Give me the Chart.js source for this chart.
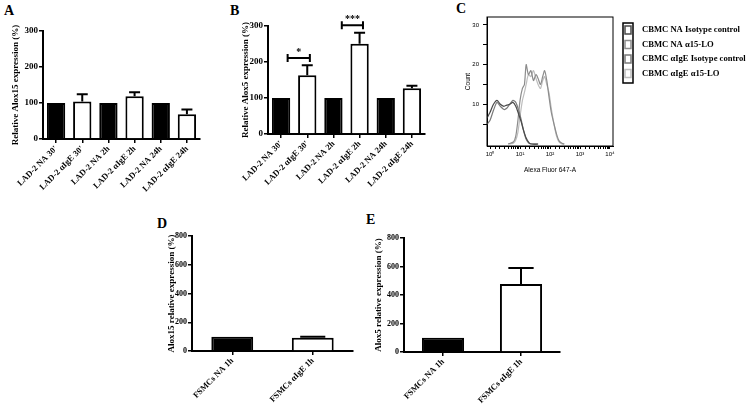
<!DOCTYPE html>
<html>
<head>
<meta charset="utf-8">
<script src="https://cdn.jsdelivr.net/npm/chart.js@4.4.1/dist/chart.umd.min.js"></script>
<style>
  body { margin: 0; background: #fff; }
  #wrap { position: relative; width: 750px; height: 407px; overflow: hidden; background: #fff; }
  canvas { position: absolute; }
  .lab { position: absolute; font: bold 14px "Liberation Serif", serif; color: #000; }
</style>
</head>
<body>
<div id="wrap">
  <div class="lab" style="left:4px;top:3px">A</div>
  <div class="lab" style="left:230px;top:3px">B</div>
  <div class="lab" style="left:456px;top:1px">C</div>
  <div class="lab" style="left:157px;top:216px">D</div>
  <div class="lab" style="left:366px;top:212px">E</div>
  <canvas id="chartA" width="215" height="200" style="left:0;top:0"></canvas>
  <canvas id="chartB" width="215" height="200" style="left:225px;top:0"></canvas>
  <canvas id="chartC" width="310" height="190" style="left:440px;top:0"></canvas>
  <canvas id="chartD" width="210" height="207" style="left:155px;top:200px"></canvas>
  <canvas id="chartE" width="200" height="207" style="left:372px;top:200px"></canvas>
</div>
<script>
// panels A, B: LAD-2 cells
const ladLabels = ["LAD-2 NA 30'", "LAD-2 αIgE 30'", "LAD-2 NA 2h", "LAD-2 αIgE 2h", "LAD-2 NA 24h", "LAD-2 αIgE 24h"];
const alox15Lad = [100, 104, 100, 119, 100, 69];
const alox15LadErr = [0, 20, 0, 11, 0, 13];
const alox5Lad = [100, 163, 100, 251, 100, 127];
const alox5LadErr = [0, 28, 0, 30, 0, 7];

// panels D, E: FSMCs
const fsmcLabels = ["FSMCs NA 1h", "FSMCs αIgE 1h"];
const alox15Fsmc = [100, 93];
const alox15FsmcErr = [0, 6];
const alox5Fsmc = [100, 477];
const alox5FsmcErr = [0, 113];

// panel C: flow histogram (Alexa Fluor 647-A vs count)
const isoX = [0.79, 1.0, 1.3, 1.7, 2.2, 2.9, 3.6, 4.5, 5.8, 7.2, 9, 11, 13, 16, 20, 25, 40];
const naIsotype = [6.5, 8, 10, 11, 10, 9.5, 9.8, 10, 10.5, 9.5, 7.5, 5.5, 3.5, 1.5, 0.3, 0, 0];
const igeIsotype = [5, 6, 8.5, 10.5, 9.5, 8.7, 9, 10, 11, 10.5, 8.5, 6, 3.5, 1.2, 0.2, 0, 0];
const loX = [4, 6, 7.2, 8.5, 10, 12, 14, 16, 19, 23, 28, 34, 40, 48, 57, 66, 78, 92, 110, 136, 165, 200, 250, 300];
const naLO = [0, 0.5, 2, 6, 11, 14, 15, 20, 17.5, 18.5, 16, 17.5, 16.5, 15, 17, 18.5, 16, 12, 8, 5, 2.5, 0.8, 0.2, 0];
const igeLO = [0, 0.2, 1, 3, 7, 11, 13, 15, 17.5, 17, 18.5, 16.5, 15, 14, 16, 17, 15, 13, 9, 5, 2, 0.5, 0, 0];

const serif = '"Liberation Serif", "Times New Roman", serif';
const sans = '"Liberation Sans", Arial, sans-serif';

const errorBars = {
    id: 'errorBars',
    afterDatasetsDraw(chart, args, opts)
    {
        const errs = opts.values;
        if(!errs) return;
        const ctx = chart.ctx;
        const y = chart.scales.y;
        const vals = chart.data.datasets[0].data;
        const meta = chart.getDatasetMeta(0);
        ctx.save();
        ctx.strokeStyle = '#000';
        ctx.lineWidth = 2;
        for(let i=0; i<meta.data.length; i++)
        {
            if(!errs[i]) continue;
            const bar = meta.data[i];
            const top = y.getPixelForValue(vals[i] + errs[i]);
            const base = y.getPixelForValue(vals[i]);
            const half = bar.width * 0.3;
            ctx.beginPath();
            ctx.moveTo(bar.x, base);
            ctx.lineTo(bar.x, top);
            ctx.moveTo(bar.x - half, top);
            ctx.lineTo(bar.x + half, top);
            ctx.stroke();
        }
        ctx.restore();
    }
};

const brackets = {
    id: 'brackets',
    afterDatasetsDraw(chart, args, opts)
    {
        const list = opts.items;
        if(!list) return;
        const ctx = chart.ctx;
        const x = chart.scales.x;
        const y = chart.scales.y;
        ctx.save();
        ctx.strokeStyle = '#000';
        ctx.fillStyle = '#000';
        ctx.lineWidth = 2;
        ctx.font = 'bold 10px ' + serif;
        ctx.textAlign = 'center';
        ctx.textBaseline = 'bottom';
        for(let i=0; i<list.length; i++)
        {
            const b = list[i];
            const x1 = x.getPixelForValue(b.from);
            const x2 = x.getPixelForValue(b.to);
            const yy = y.getPixelForValue(b.value);
            ctx.beginPath();
            ctx.moveTo(x1, yy); ctx.lineTo(x2, yy);
            ctx.moveTo(x1, yy - 4); ctx.lineTo(x1, yy + 4);
            ctx.moveTo(x2, yy - 4); ctx.lineTo(x2, yy + 4);
            ctx.stroke();
            ctx.fillText(b.text, (x1 + x2) / 2, yy - 1);
        }
        ctx.restore();
    }
};

function drawBars(id, labels, values, errs, opt)
{
    const ctx = document.getElementById(id).getContext('2d');
    return new Chart(ctx, {
        type: 'bar',
        data: {
            labels: labels,
            datasets: [{
                data: values,
                backgroundColor: c => c.dataIndex % 2 === 0 ? '#000' : '#fff',
                borderColor: '#000',
                borderWidth: 2,
                categoryPercentage: 1,
                barPercentage: opt.barPct
            }]
        },
        options: {
            responsive: false,
            animation: false,
            layout: { padding: { top: opt.top, right: opt.right, left: 0, bottom: 0 } },
            plugins: {
                legend: { display: false },
                tooltip: { enabled: false },
                errorBars: { values: errs },
                brackets: { items: opt.brackets }
            },
            scales: {
                x: {
                    afterFit: s => { s.height = opt.xh; },
                    border: { color: '#000', width: 2 },
                    grid: { offset: false, drawOnChartArea: false, color: '#000', lineWidth: 1.5, tickLength: 4 },
                    ticks: { autoSkip: false, minRotation: 45, maxRotation: 45, padding: 1, color: '#000',
                             font: { family: serif, size: 8.5, weight: 'bold' } }
                },
                y: {
                    min: 0, max: opt.max,
                    afterFit: s => { s.width = opt.yw; },
                    border: { color: '#000', width: 2 },
                    grid: { drawOnChartArea: false, color: '#000', lineWidth: 1.5, tickLength: 4 },
                    ticks: { stepSize: opt.step, padding: 1, color: '#000',
                             font: { family: serif, size: opt.tickSize, weight: 'bold' } },
                    title: { display: true, text: opt.title, color: '#000', padding: { top: opt.tp, bottom: 0 },
                             font: { family: serif, size: 9, weight: 'bold' } }
                }
            }
        },
        plugins: [errorBars, brackets]
    });
}

drawBars('chartA', ladLabels, alox15Lad, alox15LadErr,
    { barPct: 0.7, top: 31, right: 15, xh: 61, yw: 43, max: 300, step: 100, tp: 10, tickSize: 9,
      title: 'Relative Alox15 expression (%)' });

drawBars('chartB', ladLabels, alox5Lad, alox5LadErr,
    { barPct: 0.7, top: 26, right: 15, xh: 66, yw: 43, max: 300, step: 100, tp: 15, tickSize: 9,
      title: 'Relative Alox5 expression (%)',
      brackets: [ { from: 0.25, to: 1.1, value: 211, text: '*' },
                  { from: 2.32, to: 3.13, value: 302, text: '***' } ] });

drawBars('chartD', fsmcLabels, alox15Fsmc, alox15FsmcErr,
    { barPct: 0.52, top: 36, right: 12, xh: 56, yw: 37, max: 800, step: 200, tp: 11, tickSize: 8,
      title: 'Alox15 relative expression (%)' });

drawBars('chartE', fsmcLabels, alox5Fsmc, alox5FsmcErr,
    { barPct: 0.54, top: 38, right: 12, xh: 55, yw: 32, max: 800, step: 200, tp: 1, tickSize: 8,
      title: 'Alox5 relative expression (%)' });

// panel C
function toPts(xs, ys)
{
    let pts = [];
    for(let i=0; i<xs.length; i++)
    {
        pts.push({ x: xs[i], y: ys[i] });
    }
    return pts;
}

const frame = {
    id: 'frame',
    afterDraw(chart)
    {
        const a = chart.chartArea;
        const ctx = chart.ctx;
        ctx.save();
        ctx.strokeStyle = '#000';
        ctx.lineWidth = 1;
        ctx.strokeRect(a.left, a.top, a.right - a.left, a.bottom - a.top);
        ctx.restore();
    }
};

const flowLegend = {
    id: 'flowLegend',
    afterDraw(chart, args, opts)
    {
        const ctx = chart.ctx;
        const sets = chart.data.datasets;
        ctx.save();
        ctx.strokeStyle = '#000';
        ctx.lineWidth = 1.5;
        ctx.strokeRect(opts.x, opts.y, 10, sets.length * opts.step + 2);
        ctx.font = 'bold 8.6px ' + serif;
        ctx.fillStyle = '#000';
        ctx.textBaseline = 'middle';
        for(let i=0; i<sets.length; i++)
        {
            const cy = opts.y + 7 + i * opts.step;
            ctx.strokeStyle = sets[i].borderColor;
            ctx.lineWidth = 1.5;
            ctx.strokeRect(opts.x + 2, cy - 4, 6, 8);
            ctx.fillText(sets[i].label, opts.x + 19, cy);
        }
        ctx.restore();
    }
};

new Chart(document.getElementById('chartC').getContext('2d'), {
    type: 'line',
    data: {
        datasets: [
            { label: 'CBMC NA Isotype control', data: toPts(isoX, naIsotype), borderColor: '#4a4a4a' },
            { label: 'CBMC NA α15-LO', data: toPts(loX, naLO), borderColor: '#8c8c8c' },
            { label: 'CBMC αIgE Isotype control', data: toPts(isoX, igeIsotype), borderColor: '#7a7a7a' },
            { label: 'CBMC αIgE α15-LO', data: toPts(loX, igeLO), borderColor: '#bdbdbd' }
        ]
    },
    options: {
        responsive: false,
        animation: false,
        layout: { padding: { top: 17, right: 137, left: 0, bottom: 0 } },
        elements: { point: { radius: 0 }, line: { borderWidth: 1.2, tension: 0.25 } },
        plugins: {
            legend: { display: false },
            tooltip: { enabled: false },
            flowLegend: { x: 183, y: 23, step: 14.5 }
        },
        scales: {
            x: {
                type: 'logarithmic', min: 0.79, max: 12600,
                afterFit: s => { s.height = 44; },
                afterBuildTicks: s => { s.ticks = s.ticks.filter(t => t.value >= 1 && t.value <= 10000); },
                border: { color: '#000', width: 1 },
                grid: { drawOnChartArea: false, color: '#000', lineWidth: 1, tickLength: 3 },
                ticks: {
                    autoSkip: false, maxRotation: 0, padding: 2, color: '#000',
                    font: { family: sans, size: 6 },
                    callback: v => {
                        const p = Math.log10(v);
                        if(Math.abs(p - Math.round(p)) > 1e-6) return '';
                        return '10' + ['⁰', '¹', '²', '³', '⁴'][Math.round(p)];
                    }
                },
                title: { display: true, text: 'Alexa Fluor 647-A', color: '#000', padding: { top: 0, bottom: 16 },
                         font: { family: sans, size: 6.5 } }
            },
            y: {
                min: -0.5, max: 32,
                afterFit: s => { s.width = 47; },
                afterBuildTicks: s => { s.ticks = s.ticks.filter(t => t.value >= 0 && t.value % 5 === 0); },
                border: { color: '#000', width: 1 },
                grid: { drawOnChartArea: false, color: '#000', lineWidth: 1, tickLength: 4 },
                ticks: {
                    stepSize: 5, padding: 4, color: '#000',
                    font: { family: sans, size: 6 },
                    callback: v => v % 10 === 0 ? v : ''
                },
                title: { display: true, text: 'Count', color: '#000', padding: { top: 24, bottom: 0 },
                         font: { family: sans, size: 6.5 } }
            }
        }
    },
    plugins: [frame, flowLegend]
});
</script>
</body>
</html>
